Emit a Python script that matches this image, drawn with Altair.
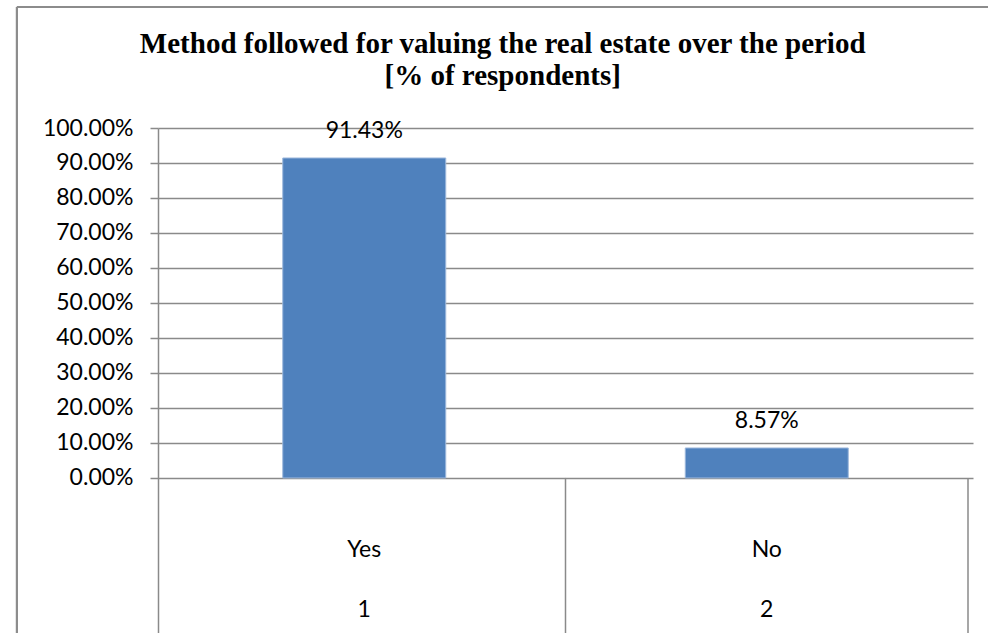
import altair as alt
import pandas as pd

# ---- data ----
categories = ["Yes", "No"]
groups = ["1", "2"]
shares = [0.9143, 0.0857]
tick_values = [0.0, 0.1, 0.2, 0.3, 0.4, 0.5, 0.6, 0.7, 0.8, 0.9, 1.0]

title_lines = [
    "Method followed for valuing the real estate over the period",
    "[% of respondents]",
]
title_order = [0, 1]

df = pd.DataFrame({"category": categories, "group": groups, "share": shares})
tdf = pd.DataFrame({"line": title_lines, "order": title_order})

GRID = "#8a8a8a"
LABEL_FONT = "Lato"
FS = 23
Y_MIN = -0.443

base = alt.Chart(df).transform_calculate(
    idx="toNumber(datum.group)",
    center="datum.idx - 0.5",
    ylo=str(Y_MIN),
    ybase="0",
    ycat="-0.205",
    ygrp="-0.378",
    # outer frame of the chart (left and top edges), in axis units
    fx="-0.363",
    fx2="2.2",
    fy="1.346",
)

xscale = alt.Scale(domain=[0, 2], nice=False, zero=False)
yscale = alt.Scale(domain=[Y_MIN, 1.0], nice=False, zero=True)

yaxis = alt.Axis(
    values=tick_values,
    format=".2%",
    grid=True,
    gridColor=GRID,
    gridWidth=1.5,
    domainColor=GRID,
    domainWidth=1.5,
    tickColor=GRID,
    tickWidth=1.5,
    tickSize=8,
    labelFont=LABEL_FONT,
    labelFontSize=FS,
    labelColor="black",
    labelPadding=17,
    title=None,
)

bars = base.mark_bar(
    color="#4F81BD", stroke="#9db8dc", strokeWidth=1, size=163
).encode(
    x=alt.X("center:Q", scale=xscale, axis=None),
    y=alt.Y("share:Q", scale=yscale, axis=yaxis),
)

values = base.mark_text(
    font=LABEL_FONT, fontSize=FS, color="black", baseline="middle", dy=-27
).encode(
    x=alt.X("center:Q"),
    y=alt.Y("share:Q"),
    text=alt.Text("share:Q", format=".2%"),
)

cat_labels = base.mark_text(
    font=LABEL_FONT, fontSize=FS, color="black", baseline="middle"
).encode(
    x=alt.X("center:Q"),
    y=alt.Y("ycat:Q"),
    text="category:N",
)

grp_labels = base.mark_text(
    font=LABEL_FONT, fontSize=FS, color="black", baseline="middle"
).encode(
    x=alt.X("center:Q"),
    y=alt.Y("ygrp:Q"),
    text="group:N",
)

dividers = base.mark_rule(color=GRID, strokeWidth=1.5).encode(
    x=alt.X("idx:Q"),
    y=alt.Y("ylo:Q"),
    y2="ybase:Q",
)

frame_left = base.mark_rule(color="#8c8c8c", strokeWidth=2).encode(
    x=alt.X("fx:Q"),
    y=alt.Y("ylo:Q"),
    y2="fy:Q",
)

frame_top = base.mark_rule(color="#8c8c8c", strokeWidth=2).encode(
    x=alt.X("fx:Q"),
    x2="fx2:Q",
    y=alt.Y("fy:Q"),
)

# chart title, drawn as text so that it sits inside the outer frame
title = alt.Chart(tdf).transform_calculate(
    tx="0.844",
    ty="1.214 - datum.order * 0.0914",
).mark_text(
    font="Liberation Serif",
    fontSize=29,
    fontWeight="bold",
    color="black",
    baseline="alphabetic",
    align="center",
).encode(
    x=alt.X("tx:Q"),
    y=alt.Y("ty:Q"),
    text="line:N",
)

chart = alt.layer(
    bars, values, cat_labels, grp_labels, dividers, frame_left, frame_top, title
).properties(
    width=815,
    height=505,
    autosize=alt.AutoSizeParams(type="none"),
    padding={"left": 158, "top": 128, "right": 15, "bottom": 0},
).configure_view(strokeOpacity=0)

chart.save("out.html", embed_options={"renderer": "svg", "actions": False})
